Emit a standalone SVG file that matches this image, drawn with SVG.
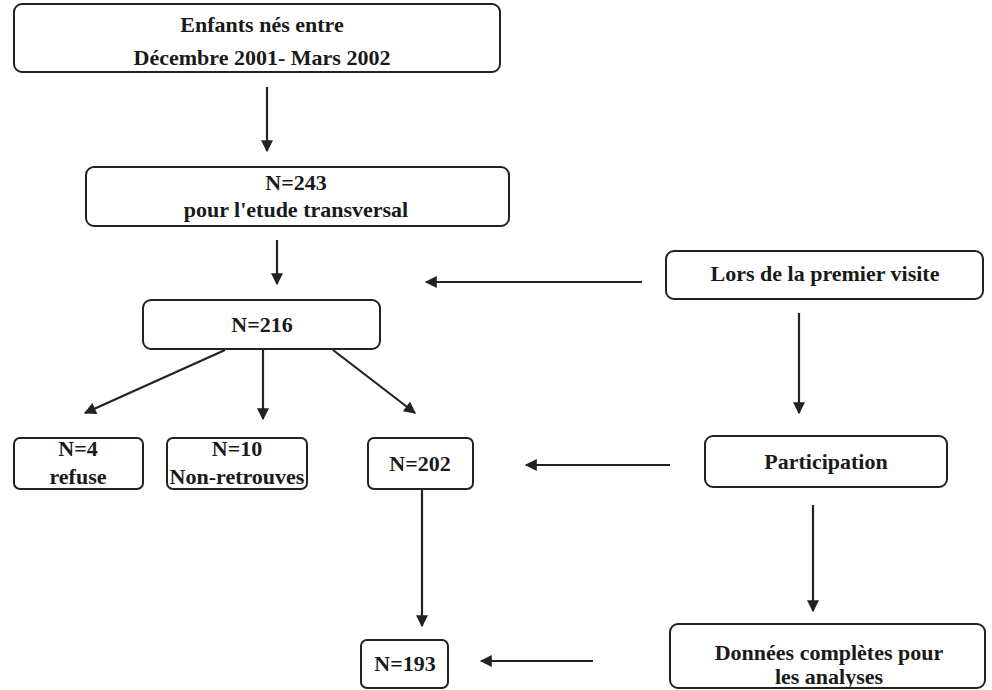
<svg xmlns="http://www.w3.org/2000/svg" width="992" height="690" viewBox="0 0 992 690">
  <style>
    .box { fill: #ffffff; stroke: #222222; stroke-width: 2; }
    .lbl { font-family: "Liberation Serif", "Times New Roman", serif; font-weight: bold; font-size: 22px; fill: #1a1a1a; text-anchor: middle; }
    .conn { stroke: #222222; stroke-width: 2.2; fill: none; marker-end: url(#arrow); }
  </style>
  <defs>
    <marker id="arrow" viewBox="0 0 10 10" refX="9" refY="5" markerWidth="13" markerHeight="12" markerUnits="userSpaceOnUse" orient="auto">
      <path d="M0,0 L10,5 L0,10 z" fill="#222222"/>
    </marker>
  </defs>
  <rect width="992" height="690" fill="#ffffff"/>

  <g id="connectors">
    <line class="conn" x1="267" y1="87" x2="267" y2="151"/>
    <line class="conn" x1="277" y1="240" x2="277" y2="284"/>
    <line class="conn" x1="642" y1="282" x2="426" y2="282"/>
    <line class="conn" x1="799" y1="313" x2="799" y2="413"/>
    <line class="conn" x1="225" y1="350" x2="85" y2="413"/>
    <line class="conn" x1="263" y1="350" x2="263" y2="419"/>
    <line class="conn" x1="333" y1="350" x2="415" y2="413"/>
    <line class="conn" x1="670" y1="465" x2="526" y2="465"/>
    <line class="conn" x1="422" y1="490" x2="422" y2="626"/>
    <line class="conn" x1="813" y1="505" x2="813" y2="611"/>
    <line class="conn" x1="593" y1="661" x2="481" y2="661"/>
  </g>

  <g id="node-enfants">
    <rect class="box" x="14" y="4" width="486" height="68" rx="8"/>
    <text class="lbl" x="262" y="32">Enfants nés entre</text>
    <text class="lbl" x="262" y="65">Décembre 2001- Mars 2002</text>
  </g>

  <g id="node-n243">
    <rect class="box" x="86" y="167" width="423" height="59" rx="8"/>
    <text class="lbl" x="296" y="190">N=243</text>
    <text class="lbl" x="296" y="217">pour l'etude transversal</text>
  </g>

  <g id="node-n216">
    <rect class="box" x="143" y="300" width="237" height="49" rx="8"/>
    <text class="lbl" x="262" y="332">N=216</text>
  </g>

  <g id="node-n4">
    <rect class="box" x="14" y="438" width="129" height="51" rx="6"/>
    <text class="lbl" x="78" y="456">N=4</text>
    <text class="lbl" x="78" y="484">refuse</text>
  </g>

  <g id="node-n10">
    <rect class="box" x="167" y="438" width="140" height="51" rx="6"/>
    <text class="lbl" x="237" y="456">N=10</text>
    <text class="lbl" x="237" y="484">Non-retrouves</text>
  </g>

  <g id="node-n202">
    <rect class="box" x="368" y="438" width="105" height="51" rx="6"/>
    <text class="lbl" x="420" y="471">N=202</text>
  </g>

  <g id="node-visite">
    <rect class="box" x="666" y="251" width="317" height="48" rx="8"/>
    <text class="lbl" x="825" y="281">Lors de la premier visite</text>
  </g>

  <g id="node-participation">
    <rect class="box" x="705" y="436" width="242" height="51" rx="8"/>
    <text class="lbl" x="826" y="469">Participation</text>
  </g>

  <g id="node-donnees">
    <rect class="box" x="670" y="624" width="315" height="64" rx="8"/>
    <text class="lbl" x="829" y="660">Données complètes pour</text>
    <text class="lbl" x="829" y="684">les analyses</text>
  </g>

  <g id="node-n193">
    <rect class="box" x="361" y="640" width="87" height="48" rx="6"/>
    <text class="lbl" x="405" y="671">N=193</text>
  </g>
</svg>
